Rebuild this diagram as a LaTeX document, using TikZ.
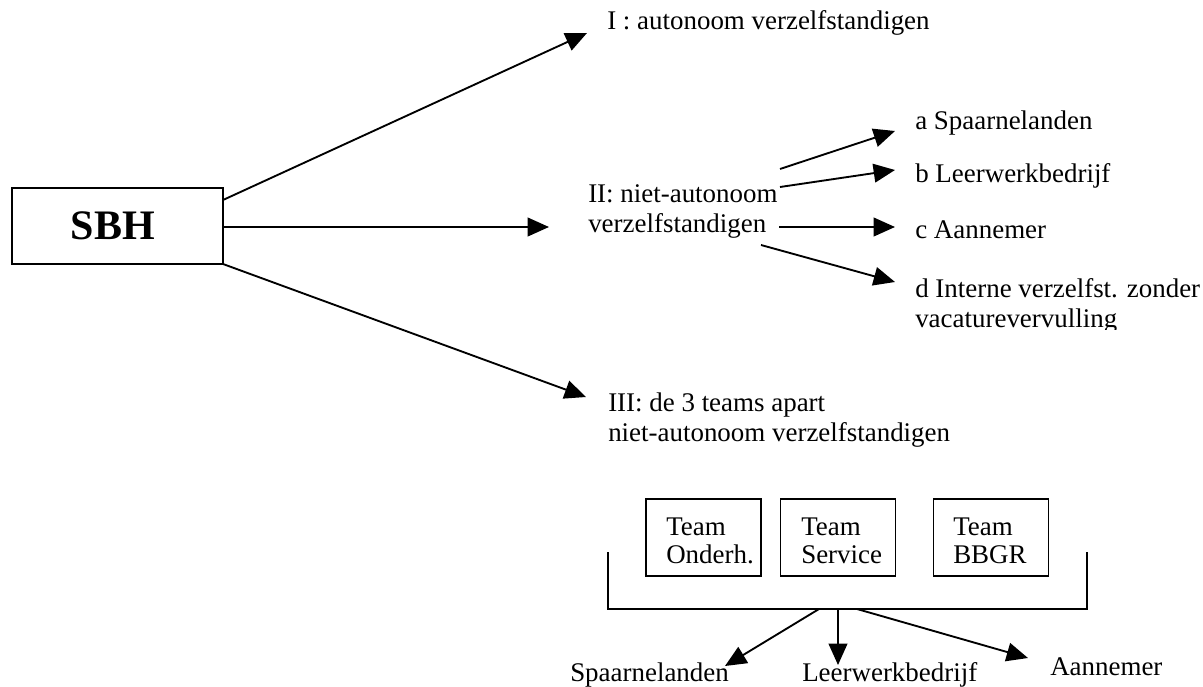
\documentclass[tikz,border=0pt]{standalone}
\usepackage{fontspec}
\setmainfont{Liberation Serif}
\usetikzlibrary{arrows.meta}
\begin{document}
\begin{tikzpicture}[x=0.75pt,y=-0.75pt,
  txt/.style={inner sep=0pt, anchor=base west, align=left, font=\fontsize{20.2}{22.5}\selectfont},
  teamtxt/.style={inner sep=0pt, anchor=base west, align=left, font=\fontsize{20.2}{21}\selectfont},
  conn/.style={line width=1.4pt, -{Triangle[length=16pt,width=14pt]}},
  plain/.style={line width=1.4pt},
  boxed/.style={draw, line width=1.4pt, inner sep=0pt, rectangle}]
\useasboundingbox (0,0) rectangle (1203,686);

% SBH
\node[boxed, minimum width=158.25pt, minimum height=57pt,
      font=\fontsize{31.5}{36}\selectfont\bfseries] (sbh) at (117.5,226) {SBH\kern7pt};

% texts (base anchor = baseline of the last line)
\node[txt] (tI) at (607,29) {I : autonoom verzelfstandigen};
\node[txt] (tII) at (588,232) {II: niet-autonoom\\verzelfstandigen};
\node[txt] (ta) at (915,129) {a Spaarnelanden};
\node[txt] (tb) at (915,182) {b Leerwerkbedrijf};
\node[txt] (tc) at (915,238) {c Aannemer};
\begin{scope}
  \clip (880,260) rectangle (1203,329);
  \node[txt] (td) at (915,327) {d Interne verzelfst. zonder\\vacaturevervulling};
\end{scope}
\begin{scope}
  \clip (590,370) rectangle (1100,446);
  \node[txt] (tIII) at (608,441) {III: de 3 teams apart\\niet-autonoom verzelfstandigen};
\end{scope}

% team boxes
\node[boxed, minimum width=86.25pt, minimum height=57.75pt] (b1) at (703.5,537.5) {};
\node[boxed, minimum width=86.25pt, minimum height=57.75pt] (b2) at (838,537.5) {};
\node[boxed, minimum width=86.25pt, minimum height=57.75pt] (b3) at (991,537.5) {};
\node[teamtxt] (b1t) at (666,563) {Team\\Onderh.};
\node[teamtxt] (b2t) at (801,563) {Team\\Service};
\node[teamtxt] (b3t) at (953,563) {Team\\BBGR};

% bracket
\coordinate (brl) at (608,552);
\coordinate (brr) at (1087,552);
\draw[plain] (brl) -- (608,609) -- (1087,609) -- (brr);

% bottom labels
\node[txt] (l1) at (570,681) {Spaarnelanden};
\node[txt] (l2) at (802,681) {Leerwerkbedrijf};
\node[txt] (l3) at (1050,675) {Aannemer};

% coordinates for connectors
\coordinate (s1) at (223,200);
\coordinate (e1) at (587,33);
\coordinate (s2) at (223,227);
\coordinate (e2) at (549,227);
\coordinate (s3) at (223,264);
\coordinate (e3) at (586,397);
\coordinate (IIa) at (780,169);
\coordinate (ea) at (895,131);
\coordinate (IIb) at (780,187);
\coordinate (eb) at (895,170);
\coordinate (IIc) at (779,227);
\coordinate (ec) at (895,227);
\coordinate (IId) at (761,245);
\coordinate (ed) at (895,282);
\coordinate (g1) at (819,609);
\coordinate (f1) at (725,666);
\coordinate (g2) at (838,609);
\coordinate (f2) at (838,665);
\coordinate (g3) at (857,609);
\coordinate (f3) at (1028,658);

\draw[conn] (s1) -- (e1);
\draw[conn] (s2) -- (e2);
\draw[conn] (s3) -- (e3);
\draw[conn] (IIa) -- (ea);
\draw[conn] (IIb) -- (eb);
\draw[conn] (IIc) -- (ec);
\draw[conn] (IId) -- (ed);
\draw[conn] (g1) -- (f1);
\draw[conn] (g2) -- (f2);
\draw[conn] (g3) -- (f3);
\end{tikzpicture}
\end{document}
